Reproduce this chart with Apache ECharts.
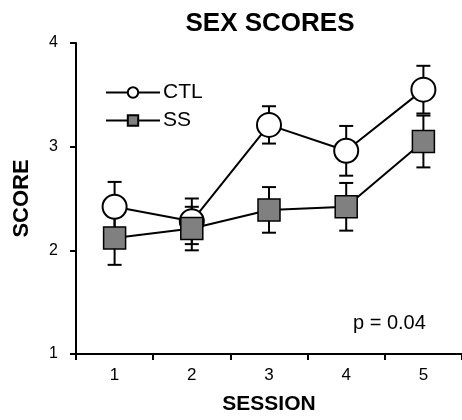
<!DOCTYPE html>
<html><head><meta charset="utf-8">
<script src="https://cdn.jsdelivr.net/npm/echarts@6/dist/echarts.min.js"></script>
<style>html,body{margin:0;padding:0;background:#fff}#c{width:462px;height:420px}</style>
</head><body><div id="c"></div>
<script>
const sessions = ['1','2','3','4','5'];
const ctlMean = [2.42, 2.28, 3.21, 2.96, 3.55];
const ctlErr  = [0.24, 0.22, 0.18, 0.24, 0.23];
const ssMean  = [2.12, 2.21, 2.39, 2.42, 3.05];
const ssErr   = [0.26, 0.21, 0.22, 0.23, 0.25];
const yTicks = [1, 2, 3, 4];

const FONT = 'Liberation Sans';
const chart = echarts.init(document.getElementById('c'));

function errSeries(mean, err, z) {
  return {
    type: 'custom', z: z, silent: true,
    data: mean.map((m, i) => [i, m, err[i]]),
    renderItem: function (params, api) {
      const i = api.value(0), m = api.value(1), e = api.value(2);
      const top = api.coord([i, m + e]);
      const bot = api.coord([i, m - e]);
      const hw = 7;
      const st = { stroke: '#000', lineWidth: 2 };
      return { type: 'group', children: [
        { type: 'line', shape: { x1: top[0], y1: top[1], x2: bot[0], y2: bot[1] }, style: st },
        { type: 'line', shape: { x1: top[0] - hw, y1: top[1], x2: top[0] + hw, y2: top[1] }, style: st },
        { type: 'line', shape: { x1: bot[0] - hw, y1: bot[1], x2: bot[0] + hw, y2: bot[1] }, style: st }
      ]};
    }
  };
}

chart.setOption({
  animation: false,
  textStyle: { fontFamily: FONT },
  title: { text: 'SEX SCORES', left: 270, top: 11, textAlign: 'center', padding: 0,
    textStyle: { fontFamily: FONT, fontWeight: 'bold', fontSize: 26, color: '#000' } },
  legend: {
    left: 105, top: 82, padding: 0, orient: 'vertical', itemWidth: 54, itemHeight: 13, itemGap: 7,
    textStyle: { fontFamily: FONT, fontSize: 21, color: '#000', padding: [0, 0, 0, -2] },
    data: ['CTL', 'SS']
  },
  grid: { left: 76, right: -8, top: 43, bottom: 59 },
  xAxis: {
    type: 'category', data: sessions, boundaryGap: true,
    name: 'SESSION', nameLocation: 'middle', nameGap: 40,
    nameTextStyle: { fontFamily: FONT, fontWeight: 'bold', fontSize: 21, color: '#000' },
    axisLine: { lineStyle: { color: '#000', width: 2 } },
    axisTick: { show: true, length: 6, lineStyle: { color: '#000', width: 2 } },
    axisLabel: { fontFamily: FONT, fontSize: 17, color: '#000', margin: 13 }
  },
  yAxis: {
    type: 'value', min: yTicks[0], max: yTicks[yTicks.length - 1], interval: 1,
    name: 'SCORE', nameLocation: 'middle', nameGap: 43, nameRotate: 90,
    nameTextStyle: { fontFamily: FONT, fontWeight: 'bold', fontSize: 22, color: '#000' },
    axisLine: { show: true, lineStyle: { color: '#000', width: 2 } },
    axisTick: { show: true, length: 6, lineStyle: { color: '#000', width: 2 } },
    axisLabel: { fontFamily: FONT, fontSize: 16, color: '#000', margin: 18 },
    splitLine: { show: false }
  },
  graphic: [{
    type: 'text', left: 353, top: 313,
    style: { text: 'p = 0.04', font: '20px "Liberation Sans", Arial, sans-serif', fill: '#000' }
  }],
  series: [
    errSeries(ctlMean, ctlErr, 1),
    errSeries(ssMean, ssErr, 1),
    {
      name: 'CTL', type: 'line', z: 3, data: ctlMean,
      symbol: 'circle', symbolSize: 24,
      lineStyle: { color: '#000', width: 2 },
      itemStyle: { color: '#fff', borderColor: '#000', borderWidth: 2 }
    },
    {
      name: 'SS', type: 'line', z: 4, data: ssMean,
      symbol: 'rect', symbolSize: 22,
      lineStyle: { color: '#000', width: 2 },
      itemStyle: { color: '#808080', borderColor: '#000', borderWidth: 1.5 }
    }
  ]
});
</script></body></html>
